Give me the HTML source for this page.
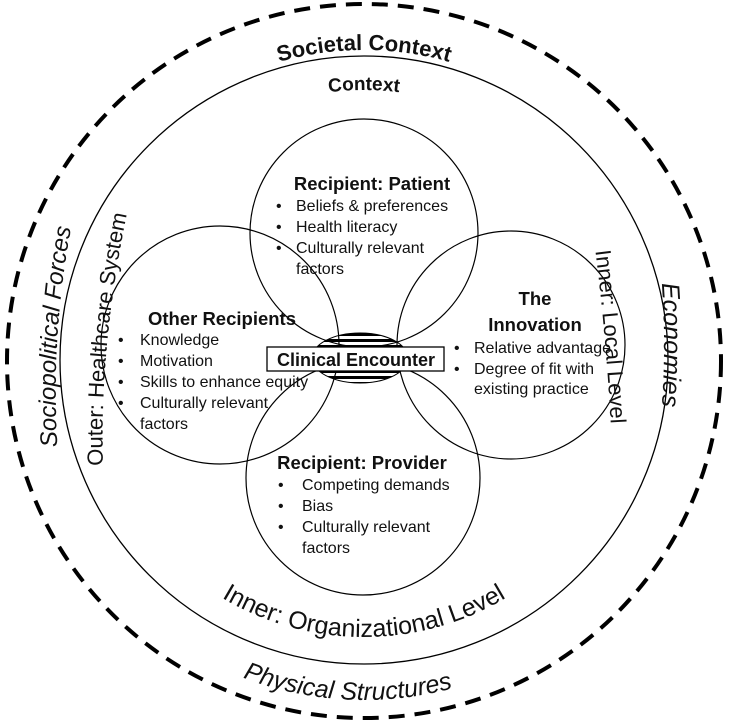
<!DOCTYPE html>
<html><head><meta charset="utf-8"><style>
html,body{margin:0;padding:0;background:#fff;}
svg{display:block;}
text{font-family:"Liberation Sans",sans-serif;fill:#111;}
.b{font-weight:bold;font-size:18.5px;}
.t{font-size:16px;}
</style></head><body>
<svg width="730" height="722" viewBox="0 0 730 722" xmlns="http://www.w3.org/2000/svg">
<defs>
<path id="c311" d="M364,672 A311,311 0 0 1 364,50 A311,311 0 0 1 364,672"/>
<path id="c271" d="M364,632 A271,271 0 0 1 364,90 A271,271 0 0 1 364,632"/>
<path id="b339" d="M364,22 A339,339 0 0 0 364,700 A339,339 0 0 0 364,22"/>
<path id="b277" d="M364,83 A277,277 0 0 0 364,637 A277,277 0 0 0 364,83"/>
<path id="pSoc" d="M60,480 Q46,335 78,195"/>
<path id="pOut" d="M104,490 Q96,350 132,190"/>
<path id="pEco" d="M660,260 Q668,345 660,430"/>
<path id="pLoc" d="M592,225 Q607,335 612,450"/>
<clipPath id="ell"><ellipse cx="360" cy="358" rx="48" ry="25"/></clipPath>
</defs>
<circle cx="364" cy="361" r="357" fill="none" stroke="#000" stroke-width="4" stroke-dasharray="16,10"/>
<circle cx="364" cy="360" r="304" fill="none" stroke="#000" stroke-width="1.3"/>
<circle cx="364" cy="233" r="114" fill="none" stroke="#000" stroke-width="1.2"/>
<circle cx="220" cy="345" r="119" fill="none" stroke="#000" stroke-width="1.2"/>
<circle cx="511" cy="345" r="114" fill="none" stroke="#000" stroke-width="1.2"/>
<circle cx="363" cy="478" r="117" fill="none" stroke="#000" stroke-width="1.2"/>
<g clip-path="url(#ell)" fill="#000">
<rect x="300" y="333" width="120" height="3"/><rect x="300" y="339" width="120" height="3"/>
<rect x="300" y="345" width="120" height="3"/><rect x="300" y="370" width="120" height="3"/>
<rect x="300" y="376" width="120" height="3"/><rect x="300" y="382" width="120" height="3"/>
</g>
<ellipse cx="360" cy="358" rx="48" ry="25" fill="none" stroke="#000" stroke-width="1"/>
<rect x="267" y="347" width="177" height="24" fill="#fff" stroke="#000" stroke-width="1.3"/>
<text x="356" y="366" text-anchor="middle" font-weight="bold" font-size="18">Clinical Encounter</text>

<text font-size="22" font-weight="bold"><textPath href="#c311" startOffset="50%" text-anchor="middle">Societal Context</textPath></text>
<text font-size="19" font-weight="bold"><textPath href="#c271" startOffset="50%" text-anchor="middle">Context</textPath></text>
<text font-size="24" font-style="italic"><textPath href="#pSoc" startOffset="50%" text-anchor="middle">Sociopolitical Forces</textPath></text>
<text font-size="22"><textPath href="#pOut" startOffset="50%" text-anchor="middle">Outer: Healthcare System</textPath></text>
<text font-size="25" font-style="italic"><textPath href="#pEco" startOffset="50%" text-anchor="middle">Economies</textPath></text>
<text font-size="22"><textPath href="#pLoc" startOffset="50%" text-anchor="middle">Inner: Local Level</textPath></text>
<text font-size="25" font-style="italic"><textPath href="#b339" startOffset="49.2%" text-anchor="middle">Physical Structures</textPath></text>
<text font-size="25"><textPath href="#b277" startOffset="50%" text-anchor="middle">Inner: Organizational Level</textPath></text>

<text x="372" y="190" text-anchor="middle" class="b" font-size="19">Recipient: Patient</text>
<g class="t"><text x="276" y="211">•</text><text x="296" y="211">Beliefs &amp; preferences</text>
<text x="276" y="232">•</text><text x="296" y="232">Health literacy</text>
<text x="276" y="253">•</text><text x="296" y="253">Culturally relevant</text>
<text x="296" y="274">factors</text></g>

<text x="222" y="325" text-anchor="middle" class="b">Other Recipients</text>
<g class="t"><text x="118" y="345">•</text><text x="140" y="345">Knowledge</text>
<text x="118" y="366">•</text><text x="140" y="366">Motivation</text>
<text x="118" y="387">•</text><text x="140" y="387">Skills to enhance equity</text>
<text x="118" y="408">•</text><text x="140" y="408">Culturally relevant</text>
<text x="140" y="429">factors</text></g>

<text x="535" y="305" text-anchor="middle" class="b">The</text>
<text x="535" y="331" text-anchor="middle" class="b">Innovation</text>
<g class="t" font-size="15"><text x="454" y="353">•</text><text x="474" y="353">Relative advantage</text>
<text x="454" y="374">•</text><text x="474" y="374">Degree of fit with</text>
<text x="474" y="394">existing practice</text></g>

<text x="362" y="469" text-anchor="middle" class="b" font-size="19">Recipient: Provider</text>
<g class="t"><text x="278" y="490">•</text><text x="302" y="490">Competing demands</text>
<text x="278" y="511">•</text><text x="302" y="511">Bias</text>
<text x="278" y="532">•</text><text x="302" y="532">Culturally relevant</text>
<text x="302" y="553">factors</text></g>
</svg>
</body></html>
